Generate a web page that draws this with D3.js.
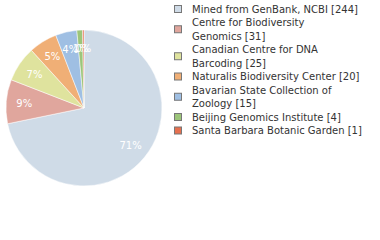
<!DOCTYPE html>
<html>
<head>
<meta charset="utf-8">
<script src="https://cdn.jsdelivr.net/npm/d3@7"></script>
<style>
  body { margin: 0; background: #fff; }
  svg { display: block; }
</style>
</head>
<body>
<div id="chart"></div>
<script>
var names = ["Mined from GenBank, NCBI", "Centre for Biodiversity Genomics",
  "Canadian Centre for DNA Barcoding", "Naturalis Biodiversity Center",
  "Bavarian State Collection of Zoology", "Beijing Genomics Institute",
  "Santa Barbara Botanic Garden"];
var counts = [244, 31, 25, 20, 15, 4, 1];
var colors = ["#cfdbe7", "#e0a69d", "#dfe39e", "#f0af76", "#9fbfe3", "#9cc57a", "#e6704f"];

var width = 380, height = 240;
var cx = 84, cy = 108, radius = 78;

var svg = d3.select("#chart").append("svg")
    .attr("width", width)
    .attr("height", height);

var total = d3.sum(counts);
var data = counts.map(function(c, i) { return {name: names[i], count: c, color: colors[i]}; });

var pie = d3.pie().sort(null).value(function(d) { return d.count; });
var arc = d3.arc().innerRadius(0).outerRadius(radius);
var labelArc = d3.arc().innerRadius(60).outerRadius(60);

var g = svg.append("g").attr("transform", "translate(" + cx + "," + cy + ")");

var slices = g.selectAll("g.slice").data(pie(data)).enter().append("g").attr("class", "slice");

slices.append("path")
    .attr("d", arc)
    .attr("fill", function(d) { return d.data.color; })
    .attr("stroke", "#fff")
    .attr("stroke-width", 0.5);

slices.append("text")
    .attr("transform", function(d) { return "translate(" + labelArc.centroid(d) + ")"; })
    .attr("text-anchor", "middle")
    .attr("dy", "0.35em")
    .attr("fill", "#fff")
    .style("font-family", "DejaVu Sans, sans-serif")
    .style("font-size", "10px")
    .text(function(d) { return Math.floor(d.data.count / total * 100) + "%"; });

// legend - wrap on the name only, count goes on the last line
var legend = svg.append("g").attr("transform", "translate(174,0)");
var lineH = 13.5, maxW = 155;
var y = 9;

data.forEach(function(d) {
  var t = legend.append("text")
      .attr("x", 18)
      .style("font-family", "DejaVu Sans, sans-serif")
      .style("font-size", "10px")
      .attr("fill", "#333");
  var words = d.name.split(" ");
  var lines = [], cur = "";
  var probe = t.append("tspan");
  words.forEach(function(w) {
    var test = cur ? cur + " " + w : w;
    probe.text(test);
    if (probe.node().getComputedTextLength() > maxW && cur) {
      lines.push(cur);
      cur = w;
    } else {
      cur = test;
    }
  });
  lines.push(cur + " [" + d.count + "]");
  probe.remove();
  lines.forEach(function(l, i) {
    t.append("tspan").attr("x", 18).attr("y", y + i * lineH).attr("dy", "0.35em").text(l);
  });
  var mid = y + (lines.length - 1) * lineH / 2;
  legend.append("rect")
      .attr("x", 0.5)
      .attr("y", mid - 3.5)
      .attr("width", 7)
      .attr("height", 7)
      .attr("fill", d.color)
      .attr("stroke", "#777")
      .attr("stroke-width", 1);
  y += lines.length * lineH;
});
</script>
</body>
</html>
